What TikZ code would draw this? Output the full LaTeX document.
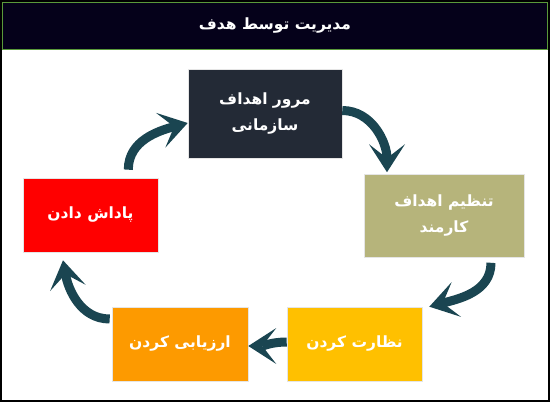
\documentclass[tikz,border=0pt]{standalone}
\usepackage{fontspec}
\newfontfamily\farsifont[Script=Arabic]{DejaVu Sans}
\TeXXeTstate=1
\usetikzlibrary{arrows.meta}
\definecolor{titlebg}{HTML}{05011A}
\definecolor{titleline}{HTML}{5A9A3A}
\definecolor{reviewc}{HTML}{232A36}
\definecolor{setc}{HTML}{B6B47B}
\definecolor{watchc}{HTML}{FFC000}
\definecolor{ratec}{HTML}{FD9A00}
\definecolor{rewardc}{HTML}{FF0000}
\definecolor{arrowc}{HTML}{1A4551}
\newcommand{\fa}[1]{{\farsifont\bfseries\beginR #1\endR}}
\begin{document}
\begin{tikzpicture}[x=1pt,y=-1pt,
    stage/.style={inner sep=0pt,align=center,text=white,draw=white!90!black,line width=0.6pt,
      font=\fontsize{15.5}{26}\selectfont},
    flow/.style={draw=arrowc,line width=9pt,
      -{Stealth[length=28pt,width=36pt,inset=14pt,line width=0pt]}}]
  \useasboundingbox (0,0) rectangle (550,402);
  \draw[line width=1.5pt] (1,1) rectangle (549,401);
  \draw[fill=titlebg,draw=titleline,line width=1pt] (2,2) rectangle (547,49);
  \node[text=white,font=\fontsize{15.5}{20}\selectfont] (title) at (275,26) {\fa{مدیریت توسط هدف}};
  % the five stages
  \node[stage,fill=reviewc,minimum width=154pt,minimum height=89pt] (review) at (265,113.5)
    {\fa{مرور اهداف}\\\fa{سازمانی}};
  \node[stage,fill=setc,minimum width=160pt,minimum height=83pt] (set) at (444,216)
    {\fa{تنظیم اهداف}\\\fa{کارمند}};
  \node[stage,fill=watchc,minimum width=135pt,minimum height=74pt] (watch) at (354.5,344)
    {\fa{نظارت کردن}};
  \node[stage,fill=ratec,minimum width=136pt,minimum height=74pt] (rate) at (180,344)
    {\fa{ارزیابی کردن}};
  \node[stage,fill=rewardc,minimum width=135pt,minimum height=74pt] (reward) at (90.5,215)
    {\fa{پاداش دادن}};
  % cycle
  \draw[flow] ([xshift=-30pt,yshift=8pt]reward.north east) to[out=90,in=195] ([yshift=-9.5pt]review.west);
  \draw[flow] ([yshift=3pt]review.east) to[out=0,in=90] ([xshift=-57pt,yshift=2pt]set.north);
  \draw[flow] ([xshift=47pt,yshift=-5pt]set.south) to[out=-90,in=15] ([xshift=7pt]watch.north east);
  \draw[flow] ([yshift=2pt]watch.west) to[out=180,in=0] ([yshift=-2pt]rate.east);
  \draw[flow] ([xshift=-2pt,yshift=25pt]rate.west) to[out=180,in=-80] ([xshift=-27.5pt,yshift=-8pt]reward.south);
\end{tikzpicture}
\end{document}
